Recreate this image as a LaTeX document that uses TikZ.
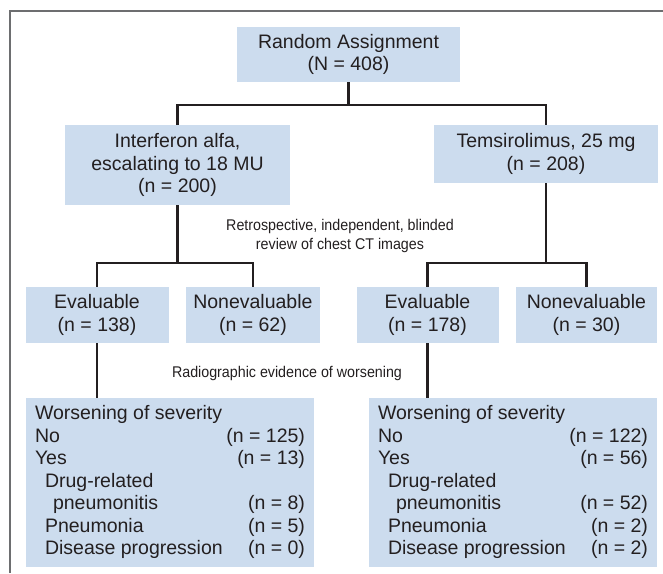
\documentclass[tikz,border=0pt]{standalone}
\usepackage{fontspec}
\setmainfont{Liberation Sans}
\newfontfamily\notefont[FakeStretch=0.92]{Liberation Sans}
\usepackage{xcolor}
\usetikzlibrary{positioning}

\definecolor{boxblue}{HTML}{CCDCEE}
\definecolor{inkgray}{HTML}{231F20}
\definecolor{framegray}{HTML}{6D6E70}

% one table of the worsening outcomes, numbers right aligned
\newcommand{\severitytable}[5]{%
  \begin{tabular*}{270pt}{@{}l@{\extracolsep{\fill}}r@{}}
    Worsening of severity & \\
    No & (n = #1)\\
    Yes & (n = #2)\\
    \hspace*{10pt}Drug-related & \\
    \hspace*{18pt}pneumonitis & (n = #3)\\
    \hspace*{10pt}Pneumonia & (n = #4)\\
    \hspace*{10pt}Disease progression & (n = #5)
  \end{tabular*}}

\begin{document}
\begin{tikzpicture}[x=1pt, y=-1pt,
    every node/.style={text=inkgray},
    stage/.style={fill=boxblue, align=center, inner sep=0pt,
      minimum height=56pt,
      font=\fontsize{19.5}{22.5}\selectfont},
    note/.style={align=center, inner sep=0pt,
      font=\notefont\fontsize{15.5}{18.5}\selectfont},
    link/.style={draw=inkgray, line width=2.2pt}]

        \def\g{17pt}

        \useasboundingbox (0,0) rectangle (663,573);
        \draw[framegray, line width=1.4pt] (10,573) -- (10,11) -- (663,11);

        % arms of the trial
        \node[stage, minimum width=223pt, minimum height=55pt] (rand) at (348.5,54.5)
        {Random Assignment\\(N = 408)};
        \node[stage, minimum width=225pt, minimum height=80pt] (ifn) at (177.5,165)
        {Interferon alfa,\\escalating to 18 MU\\(n = 200)};
        \node[stage, minimum width=224pt, minimum height=58pt] (tem) at (546,154)
        {Temsirolimus, 25 mg\\(n = 208)};

        \node[note] (ct) at (340,236)
        {Retrospective, independent, blinded\\review of chest CT images};

        % CT review
        \node[stage, minimum width=143pt] (E1) at (97,315)
        {Evaluable\\(n = 138)};
        \node[stage, minimum width=134pt, right=\g of E1] (N1)
        {Nonevaluable\\(n = 62)};
        \node[stage, minimum width=142pt] (E2) at (427.5,315)
        {Evaluable\\(n = 178)};
        \node[stage, minimum width=141pt, right=\g of E2] (N2)
        {Nonevaluable\\(n = 30)};

        \node[note] (rad) at (287,373) {Radiographic evidence of worsening};

        % outcomes
        \node[stage, minimum width=288pt, minimum height=169pt] (W1) at (170,482.5)
        {\severitytable{125}{13}{8}{5}{0}};
        \node[stage, minimum width=288pt, minimum height=169pt] (W2) at (513,482.5)
        {\severitytable{122}{56}{52}{2}{2}};

        \coordinate (S0) at (rand.south |- 0,105);
        \coordinate (S1) at (ifn.south |- 0,263);
        \coordinate (S2) at (tem.south |- 0,263);

        \begin{scope}[link]
            \draw (rand) -- (S0);
            \draw (ifn.north) |- (S0) -| (tem.north);
            \draw (ifn) -- (S1);
            \draw (tem) -- (S2);
            \draw (E1.north) |- (S1) -| (N1.north);
            \draw (E2.north) |- (S2) -| (N2.north);
            \foreach \x in {1,2}
            \draw (E\x.south) -- (E\x.south |- W\x.north);
        \end{scope}

\end{tikzpicture}
\end{document}
